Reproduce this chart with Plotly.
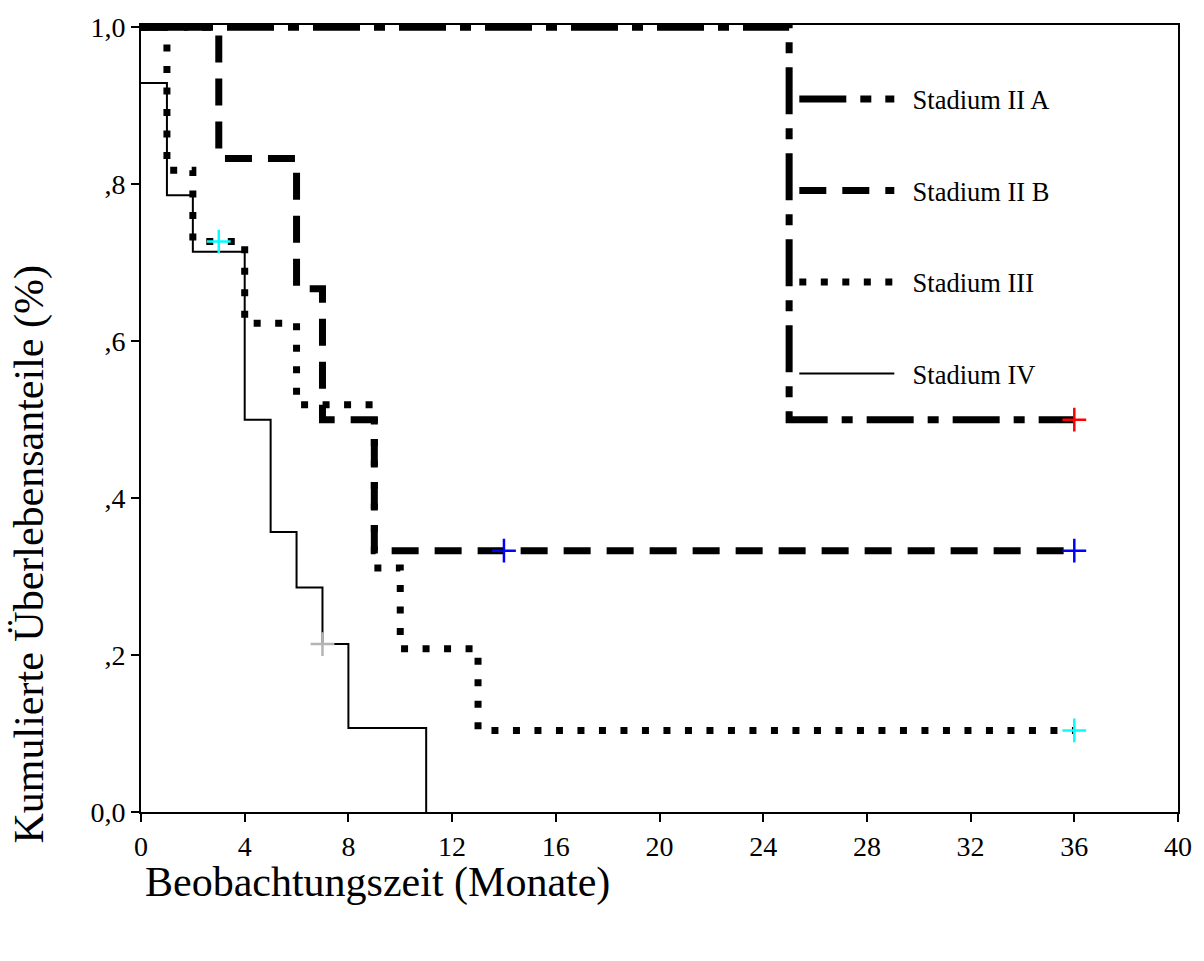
import plotly.graph_objects as go

# ---- data (Kaplan-Meier step curves) ----
t_2a = [0, 25, 36]
s_2a = [1.0, 0.5, 0.5]
c_2a_t = [36]
c_2a_s = [0.5]

t_2b = [0, 3, 6, 7, 9, 36]
s_2b = [1.0, 0.833, 0.667, 0.5, 0.333, 0.333]
c_2b_t = [14, 36]
c_2b_s = [0.333, 0.333]

t_3 = [0, 1, 2, 4, 6, 9, 10, 13, 36]
s_3 = [1.0, 0.818, 0.727, 0.623, 0.519, 0.311, 0.208, 0.104, 0.104]
c_3_t = [3, 36]
c_3_s = [0.727, 0.104]

t_4 = [0, 1, 2, 4, 5, 6, 7, 8, 11]
s_4 = [0.929, 0.786, 0.714, 0.5, 0.357, 0.286, 0.214, 0.107, 0.0]
c_4_t = [7]
c_4_s = [0.214]

names = ["Stadium II A", "Stadium II B", "Stadium III", "Stadium IV"]
x_ticks = [0, 4, 8, 12, 16, 20, 24, 28, 32, 36, 40]
y_ticks = [0.0, 0.2, 0.4, 0.6, 0.8, 1.0]
y_ticktext = ["0,0", ",2", ",4", ",6", ",8", "1,0"]

FONT = "Liberation Serif"

fig = go.Figure()

curves = [
    (t_2a, s_2a, names[0], dict(color="black", width=7, dash="47px,14px,11px,14px")),
    (t_2b, s_2b, names[1], dict(color="black", width=7, dash="27px,16px")),
    (t_3, s_3, names[2], dict(color="black", width=7, dash="7px,14.5px")),
    (t_4, s_4, names[3], dict(color="black", width=2)),
]
for i, (tt, ss, nm, ln) in enumerate(curves):
    fig.add_trace(go.Scatter(x=tt, y=ss, mode="lines", name="\u00a0\u00a0" + nm,
                             line=ln, line_shape="hv", legendgroup=f"g{i}"))

censors = [
    (c_2a_t, c_2a_s, "#ff0000"),
    (c_2b_t, c_2b_s, "#0000ff"),
    (c_3_t, c_3_s, "#00ffff"),
    (c_4_t, c_4_s, "#b4b4b4"),
]
for ct, cs, col in censors:
    fig.add_trace(go.Scatter(x=ct, y=cs, mode="markers", showlegend=False,
                             marker=dict(symbol="cross-thin", size=17,
                                         line=dict(color=col, width=2.5)),
                             cliponaxis=False))

fig.update_layout(
    width=1204, height=961,
    margin=dict(l=141, r=24, t=18, b=149, pad=0),
    paper_bgcolor="white", plot_bgcolor="white",
    font=dict(family=FONT, color="black"),
    showlegend=True,
    legend=dict(x=0.63, y=0.936, xanchor="left", yanchor="top",
                bgcolor="rgba(0,0,0,0)", font=dict(size=26.5, family=FONT),
                traceorder="grouped", tracegroupgap=54, itemwidth=95),
    xaxis=dict(range=[0, 40], tickvals=x_ticks, ticks="outside", ticklen=8,
               tickwidth=2, tickcolor="black", showline=True, linewidth=2,
               linecolor="black", mirror=True, showgrid=False, zeroline=False,
               tickfont=dict(size=28, family=FONT)),
    yaxis=dict(range=[0, 1.003], tickvals=y_ticks, ticktext=y_ticktext,
               ticks="outside", ticklen=8, tickwidth=2, tickcolor="black",
               showline=True, linewidth=2, linecolor="black", mirror=True,
               showgrid=False, zeroline=False,
               tickfont=dict(size=28, family=FONT)),
    annotations=[
        dict(text="Beobachtungszeit (Monate)", xref="paper", yref="paper",
             x=0.228, y=-0.0894, xanchor="center", yanchor="middle",
             showarrow=False, font=dict(size=42, family=FONT)),
        dict(text="Kumulierte Überlebensanteile (%)", xref="paper", yref="paper",
             x=-0.1078, y=0.3275, xanchor="center", yanchor="middle",
             textangle=-90, showarrow=False, font=dict(size=42, family=FONT)),
    ],
)

fig.write_html("out.html")
